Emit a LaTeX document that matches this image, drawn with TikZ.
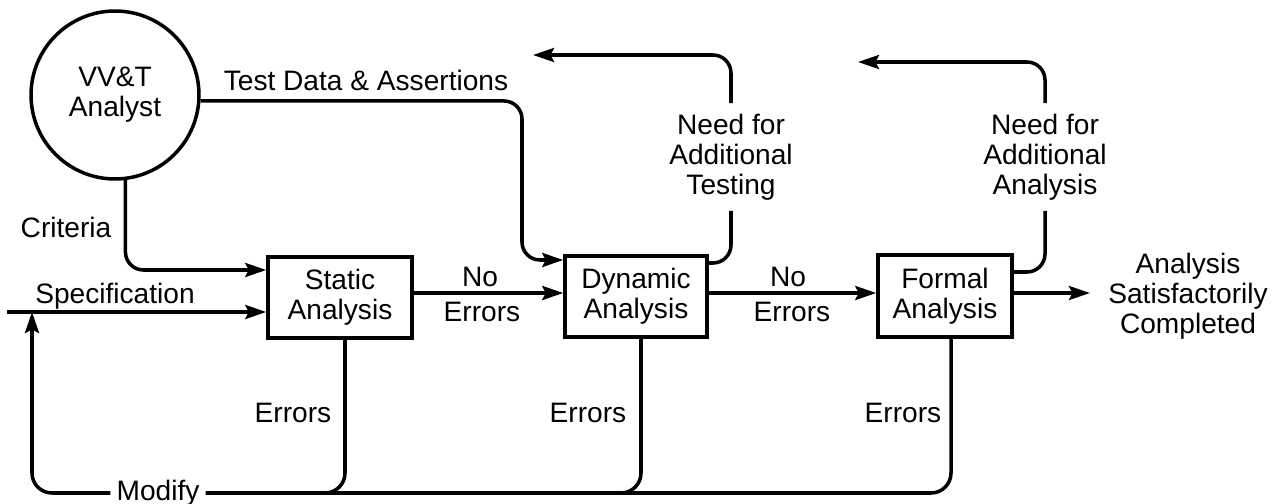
\documentclass[tikz,border=0pt]{standalone}
\usepackage{fontspec}
\setmainfont{Liberation Sans}
\usetikzlibrary{arrows.meta}
\begin{document}
\begin{tikzpicture}[x=0.02cm,y=-0.02cm,
  every node/.style={font=\fontsize{16}{17}\selectfont},
  line/.style={line width=2pt, rounded corners=0.36cm},
  arr/.style={line, -{Stealth[length=0.42cm,width=0.28cm,inset=0.07cm]}},
  box/.style={draw, line width=2pt, minimum height=1.62cm, align=center, inner sep=0pt},
  lab/.style={align=center, inner sep=0pt}]
\useasboundingbox (0,0) rectangle (1282,504);

% main nodes
\node[draw, circle, line width=2pt, minimum size=3.36cm, inner sep=0pt, align=center] (an) at (115,95) {VV\&T\\Analyst};
\node[box, minimum width=2.88cm] (sa) at (340,297.5) {Static\\Analysis};
\node[box, minimum width=2.84cm] (da) at (636,296.5) {Dynamic\\Analysis};
\node[box, minimum width=2.68cm, minimum height=1.64cm] (fa) at (945,296) {Formal\\Analysis};

\node[lab, minimum height=2.14cm] (nt) at (731,157) {Need for\\Additional\\Testing};
\node[lab, minimum height=2.14cm] (nan) at (1045,157) {Need for\\Additional\\Analysis};
\node[lab, inner xsep=0.36cm] (done) at (1188,296) {Analysis\\Satisfactorily\\Completed};
\node[lab, inner xsep=0.12cm] (mod) at (158,493) {Modify};

% labels
\node[lab] (crit) at (66,227) {Criteria};
\node[lab] (spec) at (115,296) {Specification};
\node[lab] (td) at (366,80) {Test Data \& Assertions};
\node[lab] (no1) at (480,277) {No};
\node[lab] (er1) at (482,312) {Errors};
\node[lab] (no2) at (788,277) {No};
\node[lab] (er2) at (792,312) {Errors};
\node[lab] (es) at (293,413) {Errors};
\node[lab] (ed) at (588,413) {Errors};
\node[lab] (ef) at (903,413) {Errors};

% helper coordinates
\coordinate (spin) at (7,312);
\coordinate (spj) at (32,312);
\coordinate (tdt) at (522,260);
\coordinate (ntend) at (533,55);
\coordinate (naend) at (858,62);
\coordinate (xs) at (345,0);
\coordinate (xd) at (641,0);
\coordinate (xf) at (951,0);
\coordinate (yspec) at (0,312);
\coordinate (ycrit) at (0,270);
\coordinate (ymid) at (0,293);
\coordinate (ynt) at (0,263);
\coordinate (yna) at (0,272);

% connectors
\draw[arr] (an.-83) |- (sa.west |- ycrit);
\draw[arr] (spin) -- (sa.west |- yspec);
\draw[arr] (an.-4) -| (tdt) -- (da.west |- tdt);
\draw[arr] (sa.east |- ymid) -- (da.west |- ymid);
\draw[arr] (da.east |- ymid) -- (fa.west |- ymid);
\draw[line] (da.east |- ynt) -| (nt.south);
\draw[arr] (nt.north) |- (ntend);
\draw[line] (fa.east |- yna) -| (nan.south);
\draw[arr] (nan.north) |- (naend);
\draw[arr] (fa.east |- ymid) -- (done.west |- ymid);
\draw[line, rounded corners=0.4cm] (sa.south -| xs) |- (mod.east);
\draw[line, rounded corners=0.4cm] (da.south -| xd) |- (mod.east);
\draw[line, rounded corners=0.4cm] (fa.south -| xf) |- (mod.east);
\draw[arr, rounded corners=0.4cm] (mod.west) -| (spj);
\end{tikzpicture}
\end{document}
